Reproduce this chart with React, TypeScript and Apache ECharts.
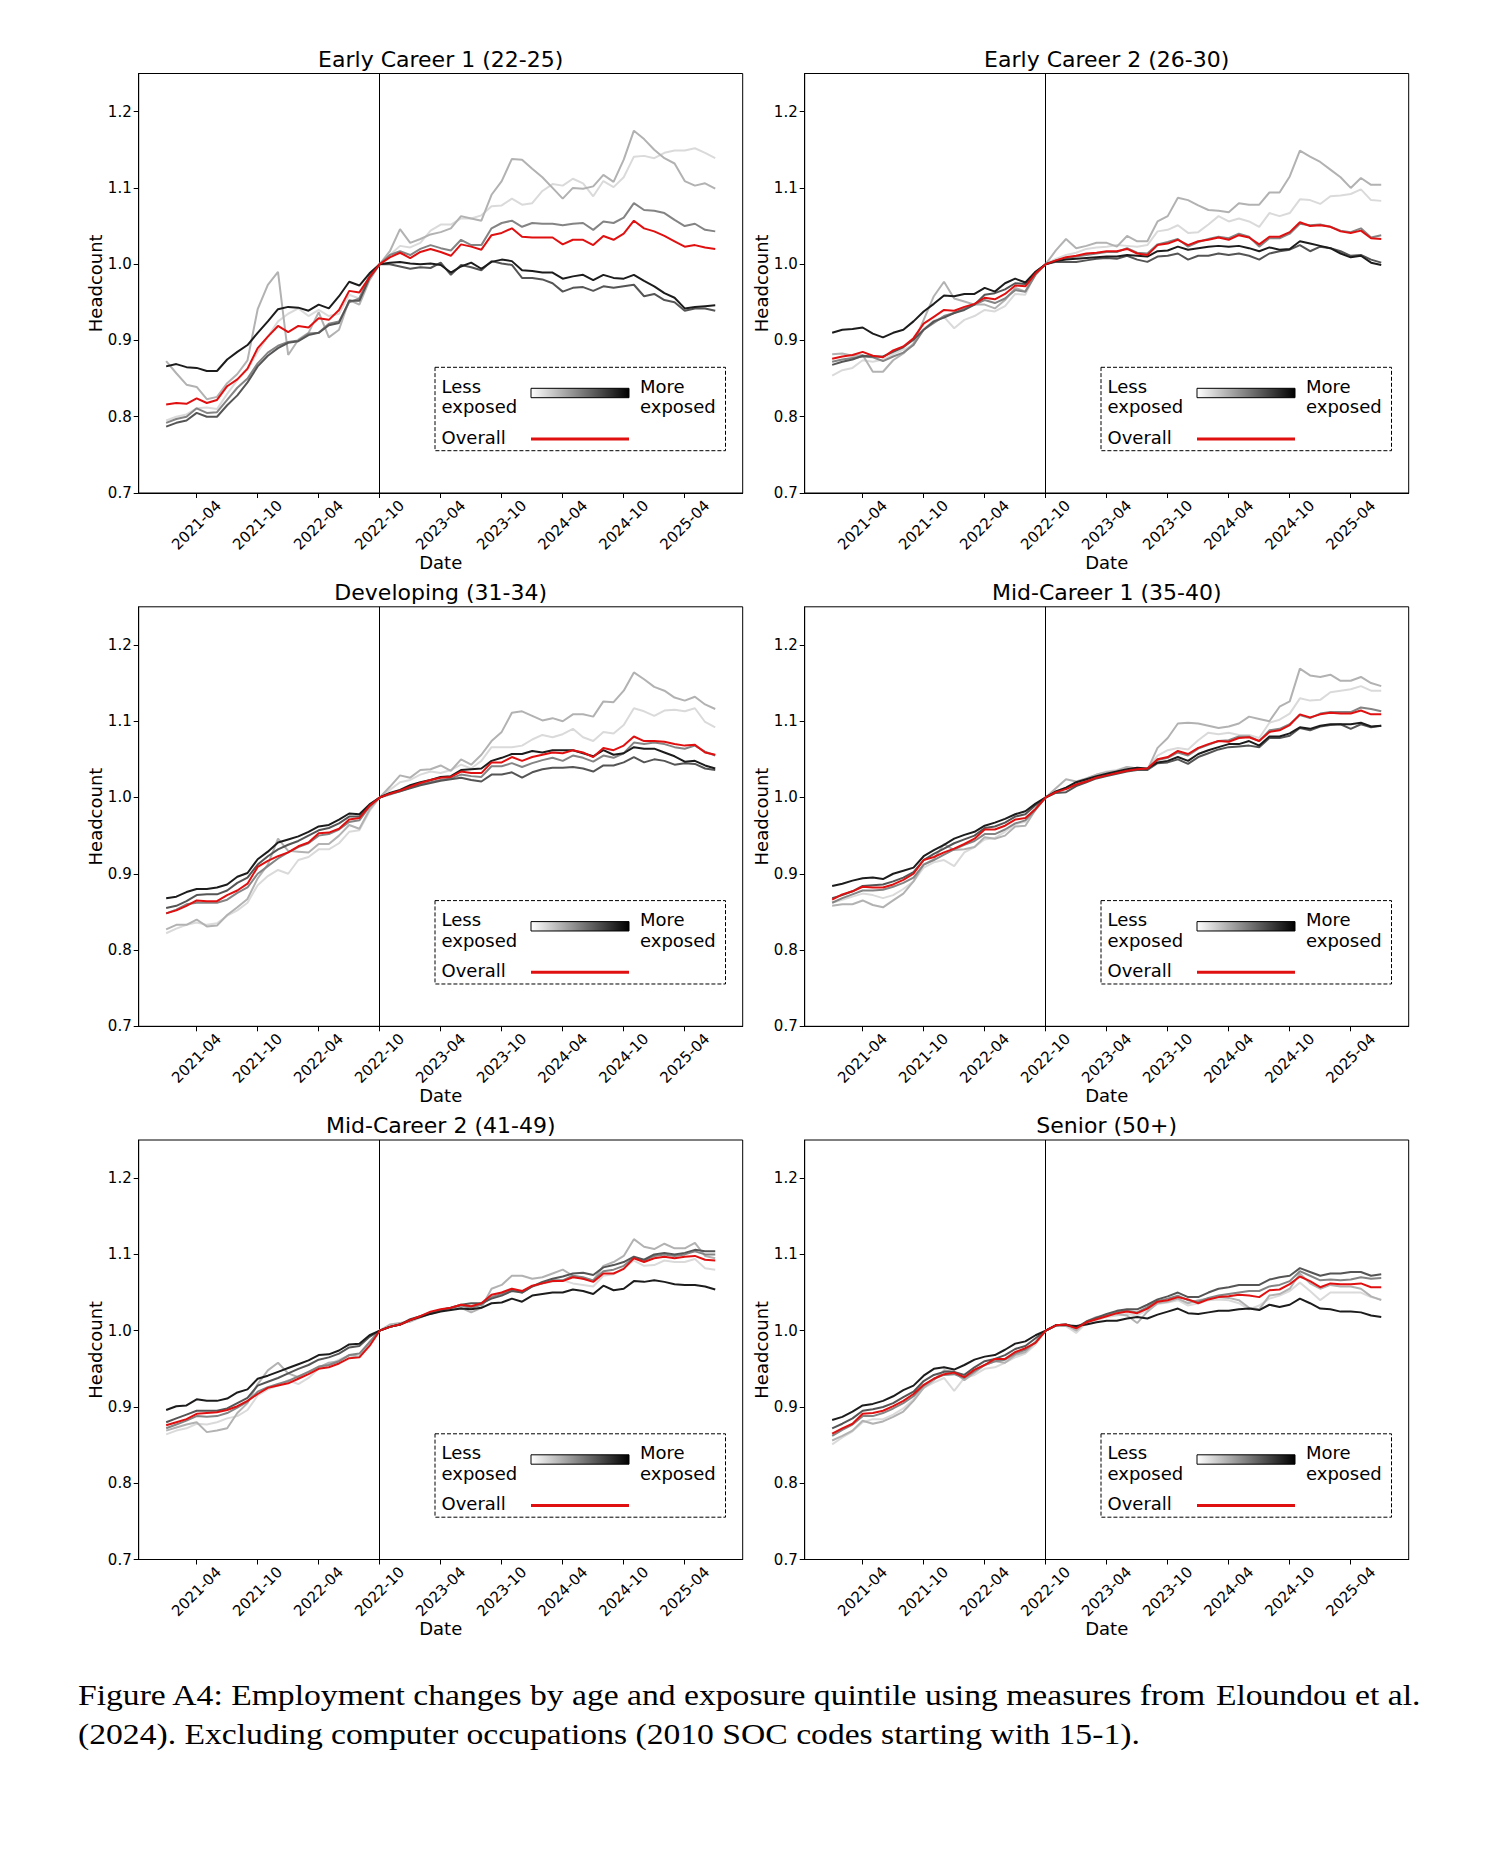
import React, { useEffect, useRef } from "react";
import * as echarts from "echarts";

// Monthly observations, 2021-01 .. 2025-07 (index 0 .. 54), normalised to 2022-10 = 1.0
const START_YEAR = 2021;
const N_MONTHS = 55;
const monthLabels: string[] = Array.from({ length: N_MONTHS }, (_, i) => {
  const y = START_YEAR + Math.floor(i / 12);
  const m = (i % 12) + 1;
  return `${y}-${m < 10 ? "0" + m : m}`;
});
const xTickIndex = [3, 9, 15, 21, 27, 33, 39, 45, 51];
const xTickLabels = ["2021-04", "2021-10", "2022-04", "2022-10", "2023-04", "2023-10", "2024-04", "2024-10", "2025-04"];
const yTicks = [0.7, 0.8, 0.9, 1.0, 1.1, 1.2];
const referenceIndex = 21; // 2022-10

const panelTitles = [
  "Early Career 1 (22-25)",
  "Early Career 2 (26-30)",
  "Developing (31-34)",
  "Mid-Career 1 (35-40)",
  "Mid-Career 2 (41-49)",
  "Senior (50+)",
];

// ---------- Early Career 1 (22-25) ----------
const ec1Q1 = [0.795, 0.800, 0.803, 0.811, 0.812, 0.810, 0.830, 0.848, 0.862, 0.885, 0.905, 0.925, 0.935, 0.942, 0.932, 0.940, 0.932, 0.935, 0.960, 0.955, 0.985, 1.000,
  1.012, 1.024, 1.022, 1.028, 1.044, 1.052, 1.052, 1.060, 1.060, 1.064, 1.076, 1.077, 1.086, 1.078, 1.080, 1.096, 1.105, 1.103, 1.112, 1.106, 1.089, 1.109, 1.101, 1.114, 1.141, 1.142, 1.139, 1.146, 1.149, 1.149, 1.152, 1.146, 1.139];
const ec1Q2 = [0.873, 0.857, 0.842, 0.839, 0.823, 0.826, 0.844, 0.856, 0.874, 0.941, 0.973, 0.990, 0.881, 0.901, 0.910, 0.937, 0.904, 0.914, 0.953, 0.947, 0.979, 1.000,
  1.017, 1.046, 1.028, 1.033, 1.039, 1.042, 1.047, 1.063, 1.060, 1.057, 1.091, 1.109, 1.138, 1.137, 1.125, 1.114, 1.100, 1.086, 1.100, 1.099, 1.102, 1.117, 1.108, 1.137, 1.175, 1.164, 1.150, 1.139, 1.132, 1.109, 1.103, 1.106, 1.099];
const ec1Q3 = [0.792, 0.797, 0.800, 0.811, 0.805, 0.806, 0.822, 0.838, 0.850, 0.870, 0.884, 0.893, 0.898, 0.900, 0.909, 0.910, 0.922, 0.925, 0.950, 0.955, 0.985, 1.000,
  1.012, 1.017, 1.012, 1.020, 1.025, 1.021, 1.018, 1.032, 1.025, 1.025, 1.047, 1.054, 1.057, 1.049, 1.054, 1.053, 1.053, 1.051, 1.053, 1.054, 1.045, 1.056, 1.054, 1.061, 1.080, 1.071, 1.070, 1.067, 1.058, 1.050, 1.053, 1.045, 1.043];
const ec1Q4 = [0.787, 0.792, 0.795, 0.805, 0.800, 0.800, 0.815, 0.828, 0.845, 0.866, 0.880, 0.890, 0.897, 0.899, 0.907, 0.910, 0.920, 0.923, 0.952, 0.952, 0.982, 1.000,
  1.000, 0.997, 0.994, 0.996, 0.995, 1.002, 0.986, 0.999, 0.996, 0.992, 1.004, 1.001, 0.999, 0.982, 0.982, 0.980, 0.975, 0.964, 0.969, 0.970, 0.965, 0.971, 0.969, 0.971, 0.973, 0.958, 0.961, 0.953, 0.950, 0.939, 0.942, 0.942, 0.939];
const ec1Q5 = [0.866, 0.869, 0.865, 0.864, 0.860, 0.860, 0.875, 0.885, 0.894, 0.910, 0.925, 0.941, 0.944, 0.943, 0.939, 0.947, 0.942, 0.958, 0.977, 0.972, 0.988, 1.000,
  1.002, 1.003, 1.001, 1.000, 1.001, 0.999, 0.989, 0.997, 1.002, 0.994, 1.003, 1.006, 1.004, 0.992, 0.991, 0.989, 0.989, 0.981, 0.984, 0.986, 0.979, 0.986, 0.982, 0.981, 0.986, 0.978, 0.971, 0.962, 0.956, 0.942, 0.944, 0.945, 0.946];
const ec1Overall = [0.816, 0.818, 0.817, 0.824, 0.818, 0.822, 0.840, 0.849, 0.863, 0.890, 0.905, 0.919, 0.911, 0.919, 0.917, 0.929, 0.927, 0.940, 0.965, 0.963, 0.983, 1.000,
  1.009, 1.015, 1.008, 1.016, 1.020, 1.016, 1.011, 1.026, 1.023, 1.019, 1.038, 1.041, 1.047, 1.036, 1.035, 1.035, 1.035, 1.026, 1.032, 1.032, 1.025, 1.037, 1.032, 1.040, 1.057, 1.047, 1.043, 1.037, 1.030, 1.023, 1.025, 1.022, 1.020];

// ---------- Early Career 2 (26-30) ----------
const ec2Q1 = [0.854, 0.861, 0.864, 0.874, 0.872, 0.875, 0.882, 0.888, 0.894, 0.915, 0.926, 0.931, 0.916, 0.927, 0.932, 0.940, 0.938, 0.945, 0.961, 0.960, 0.988, 1.000,
  1.007, 1.012, 1.015, 1.020, 1.022, 1.023, 1.025, 1.024, 1.023, 1.025, 1.043, 1.045, 1.051, 1.041, 1.042, 1.052, 1.063, 1.056, 1.060, 1.056, 1.049, 1.067, 1.063, 1.067, 1.085, 1.084, 1.079, 1.089, 1.090, 1.092, 1.098, 1.084, 1.083];
const ec2Q2 = [0.882, 0.883, 0.880, 0.881, 0.859, 0.859, 0.874, 0.883, 0.896, 0.927, 0.958, 0.977, 0.955, 0.951, 0.947, 0.947, 0.942, 0.953, 0.969, 0.964, 0.990, 1.000,
  1.018, 1.033, 1.021, 1.024, 1.028, 1.028, 1.023, 1.037, 1.030, 1.030, 1.056, 1.063, 1.087, 1.084, 1.077, 1.071, 1.070, 1.068, 1.080, 1.078, 1.078, 1.094, 1.094, 1.115, 1.149, 1.141, 1.134, 1.124, 1.114, 1.100, 1.113, 1.104, 1.104];
const ec2Q3 = [0.872, 0.875, 0.877, 0.879, 0.878, 0.873, 0.879, 0.884, 0.894, 0.914, 0.923, 0.932, 0.936, 0.942, 0.947, 0.953, 0.949, 0.955, 0.966, 0.964, 0.986, 1.000,
  1.005, 1.008, 1.010, 1.012, 1.014, 1.016, 1.016, 1.021, 1.015, 1.014, 1.026, 1.029, 1.033, 1.023, 1.029, 1.033, 1.036, 1.034, 1.040, 1.036, 1.023, 1.034, 1.034, 1.040, 1.053, 1.051, 1.052, 1.049, 1.044, 1.042, 1.047, 1.035, 1.038];
const ec2Q4 = [0.868, 0.872, 0.875, 0.880, 0.879, 0.879, 0.885, 0.891, 0.901, 0.914, 0.925, 0.930, 0.936, 0.940, 0.947, 0.960, 0.962, 0.967, 0.975, 0.974, 0.989, 1.000,
  1.003, 1.003, 1.003, 1.005, 1.007, 1.008, 1.007, 1.011, 1.006, 1.003, 1.010, 1.011, 1.014, 1.006, 1.011, 1.011, 1.014, 1.012, 1.014, 1.011, 1.006, 1.014, 1.017, 1.019, 1.025, 1.017, 1.023, 1.021, 1.017, 1.011, 1.012, 1.006, 1.002];
const ec2Q5 = [0.910, 0.914, 0.915, 0.917, 0.909, 0.904, 0.910, 0.914, 0.925, 0.938, 0.948, 0.959, 0.958, 0.961, 0.961, 0.969, 0.964, 0.975, 0.981, 0.976, 0.990, 1.000,
  1.004, 1.006, 1.007, 1.008, 1.009, 1.010, 1.010, 1.012, 1.011, 1.010, 1.017, 1.018, 1.023, 1.019, 1.021, 1.023, 1.024, 1.023, 1.024, 1.021, 1.017, 1.022, 1.019, 1.020, 1.030, 1.027, 1.024, 1.021, 1.014, 1.009, 1.011, 1.002, 0.999];
const ec2Overall = [0.876, 0.879, 0.881, 0.885, 0.880, 0.878, 0.887, 0.892, 0.903, 0.922, 0.931, 0.940, 0.939, 0.944, 0.948, 0.956, 0.954, 0.961, 0.972, 0.971, 0.988, 1.000,
  1.005, 1.009, 1.011, 1.014, 1.015, 1.017, 1.017, 1.020, 1.014, 1.012, 1.025, 1.027, 1.032, 1.025, 1.030, 1.032, 1.035, 1.032, 1.038, 1.035, 1.026, 1.036, 1.036, 1.042, 1.055, 1.050, 1.051, 1.049, 1.043, 1.041, 1.044, 1.034, 1.033];

// ---------- Developing (31-34) ----------
const devQ1 = [0.822, 0.828, 0.833, 0.836, 0.833, 0.835, 0.845, 0.852, 0.862, 0.885, 0.897, 0.905, 0.900, 0.918, 0.922, 0.932, 0.932, 0.940, 0.955, 0.957, 0.982, 1.000,
  1.010, 1.020, 1.023, 1.030, 1.034, 1.032, 1.036, 1.043, 1.038, 1.048, 1.066, 1.066, 1.066, 1.068, 1.076, 1.082, 1.079, 1.083, 1.090, 1.079, 1.074, 1.086, 1.084, 1.095, 1.117, 1.113, 1.107, 1.114, 1.115, 1.113, 1.117, 1.099, 1.092];
const devQ2 = [0.827, 0.833, 0.833, 0.840, 0.831, 0.832, 0.846, 0.856, 0.867, 0.894, 0.912, 0.946, 0.930, 0.929, 0.928, 0.939, 0.939, 0.950, 0.964, 0.959, 0.984, 1.000,
  1.014, 1.029, 1.026, 1.036, 1.037, 1.042, 1.035, 1.050, 1.043, 1.056, 1.074, 1.086, 1.111, 1.113, 1.107, 1.101, 1.104, 1.100, 1.109, 1.109, 1.106, 1.126, 1.125, 1.140, 1.164, 1.155, 1.145, 1.140, 1.131, 1.127, 1.132, 1.122, 1.116];
const devQ3 = [0.848, 0.853, 0.860, 0.862, 0.862, 0.862, 0.866, 0.875, 0.882, 0.900, 0.910, 0.920, 0.928, 0.935, 0.940, 0.950, 0.952, 0.958, 0.968, 0.970, 0.988, 1.000,
  1.004, 1.008, 1.013, 1.017, 1.020, 1.023, 1.025, 1.030, 1.028, 1.027, 1.041, 1.041, 1.045, 1.040, 1.045, 1.049, 1.052, 1.048, 1.055, 1.052, 1.047, 1.055, 1.052, 1.058, 1.072, 1.070, 1.072, 1.070, 1.066, 1.064, 1.068, 1.060, 1.055];
const devQ4 = [0.855, 0.858, 0.864, 0.872, 0.873, 0.873, 0.878, 0.888, 0.895, 0.912, 0.923, 0.932, 0.938, 0.943, 0.950, 0.957, 0.960, 0.966, 0.975, 0.975, 0.990, 1.000,
  1.005, 1.008, 1.012, 1.016, 1.019, 1.022, 1.024, 1.026, 1.023, 1.021, 1.030, 1.030, 1.033, 1.026, 1.033, 1.037, 1.039, 1.039, 1.040, 1.038, 1.034, 1.042, 1.042, 1.046, 1.053, 1.046, 1.050, 1.048, 1.043, 1.045, 1.044, 1.038, 1.036];
const devQ5 = [0.868, 0.870, 0.876, 0.880, 0.880, 0.882, 0.886, 0.896, 0.901, 0.919, 0.929, 0.941, 0.945, 0.949, 0.955, 0.962, 0.964, 0.971, 0.979, 0.978, 0.991, 1.000,
  1.006, 1.010, 1.016, 1.020, 1.023, 1.027, 1.028, 1.036, 1.037, 1.038, 1.048, 1.052, 1.057, 1.057, 1.061, 1.059, 1.062, 1.062, 1.062, 1.058, 1.054, 1.062, 1.056, 1.058, 1.066, 1.064, 1.064, 1.059, 1.054, 1.047, 1.048, 1.042, 1.038];
const devOverall = [0.848, 0.852, 0.858, 0.865, 0.864, 0.864, 0.872, 0.878, 0.887, 0.909, 0.917, 0.923, 0.928, 0.936, 0.941, 0.953, 0.954, 0.959, 0.971, 0.973, 0.989, 1.000,
  1.005, 1.009, 1.014, 1.019, 1.023, 1.026, 1.027, 1.034, 1.032, 1.032, 1.046, 1.046, 1.053, 1.048, 1.053, 1.056, 1.059, 1.058, 1.062, 1.059, 1.053, 1.065, 1.062, 1.068, 1.080, 1.074, 1.074, 1.073, 1.070, 1.068, 1.069, 1.059, 1.056];

// ---------- Mid-Career 1 (35-40) ----------
const mc1Q1 = [0.862, 0.866, 0.870, 0.874, 0.872, 0.868, 0.872, 0.880, 0.890, 0.908, 0.915, 0.918, 0.910, 0.928, 0.935, 0.945, 0.947, 0.955, 0.965, 0.968, 0.988, 1.000,
  1.008, 1.013, 1.020, 1.025, 1.030, 1.034, 1.036, 1.040, 1.038, 1.037, 1.055, 1.062, 1.065, 1.063, 1.075, 1.085, 1.083, 1.085, 1.082, 1.082, 1.078, 1.098, 1.102, 1.110, 1.130, 1.127, 1.128, 1.138, 1.140, 1.142, 1.146, 1.140, 1.140];
const mc1Q2 = [0.858, 0.860, 0.860, 0.865, 0.859, 0.856, 0.865, 0.874, 0.890, 0.912, 0.919, 0.939, 0.931, 0.932, 0.935, 0.948, 0.946, 0.950, 0.962, 0.963, 0.984, 1.000,
  1.012, 1.024, 1.021, 1.025, 1.030, 1.033, 1.035, 1.040, 1.038, 1.036, 1.065, 1.078, 1.097, 1.098, 1.097, 1.094, 1.091, 1.093, 1.097, 1.106, 1.103, 1.100, 1.119, 1.126, 1.169, 1.160, 1.158, 1.161, 1.153, 1.153, 1.158, 1.150, 1.146];
const mc1Q3 = [0.862, 0.868, 0.873, 0.878, 0.878, 0.879, 0.883, 0.888, 0.895, 0.912, 0.918, 0.925, 0.932, 0.938, 0.943, 0.952, 0.952, 0.958, 0.966, 0.970, 0.984, 1.000,
  1.007, 1.012, 1.017, 1.022, 1.026, 1.030, 1.033, 1.036, 1.037, 1.037, 1.049, 1.052, 1.059, 1.055, 1.064, 1.069, 1.074, 1.075, 1.080, 1.080, 1.074, 1.088, 1.090, 1.096, 1.108, 1.104, 1.110, 1.112, 1.112, 1.112, 1.118, 1.116, 1.113];
const mc1Q4 = [0.868, 0.872, 0.877, 0.884, 0.885, 0.886, 0.890, 0.895, 0.902, 0.918, 0.926, 0.933, 0.940, 0.945, 0.950, 0.960, 0.962, 0.967, 0.975, 0.978, 0.990, 1.000,
  1.006, 1.007, 1.015, 1.020, 1.025, 1.028, 1.031, 1.034, 1.036, 1.036, 1.045, 1.046, 1.050, 1.044, 1.053, 1.058, 1.063, 1.066, 1.067, 1.068, 1.066, 1.078, 1.078, 1.081, 1.091, 1.088, 1.093, 1.095, 1.096, 1.090, 1.096, 1.092, 1.094];
const mc1Q5 = [0.884, 0.887, 0.891, 0.894, 0.895, 0.893, 0.900, 0.904, 0.908, 0.923, 0.931, 0.938, 0.946, 0.951, 0.955, 0.963, 0.967, 0.972, 0.978, 0.982, 0.992, 1.000,
  1.008, 1.013, 1.020, 1.024, 1.028, 1.031, 1.034, 1.037, 1.039, 1.038, 1.046, 1.048, 1.053, 1.048, 1.057, 1.062, 1.066, 1.070, 1.070, 1.074, 1.068, 1.080, 1.080, 1.084, 1.092, 1.090, 1.094, 1.096, 1.096, 1.096, 1.098, 1.093, 1.094];
const mc1Overall = [0.866, 0.873, 0.877, 0.883, 0.882, 0.882, 0.886, 0.892, 0.900, 0.918, 0.922, 0.928, 0.933, 0.939, 0.946, 0.958, 0.958, 0.963, 0.971, 0.973, 0.985, 1.000,
  1.007, 1.011, 1.017, 1.021, 1.026, 1.029, 1.032, 1.035, 1.037, 1.038, 1.050, 1.053, 1.061, 1.057, 1.065, 1.070, 1.074, 1.073, 1.078, 1.079, 1.074, 1.086, 1.088, 1.095, 1.109, 1.105, 1.109, 1.111, 1.110, 1.110, 1.114, 1.109, 1.109];

// ---------- Mid-Career 2 (41-49) ----------
const mc2Q1 = [0.864, 0.869, 0.872, 0.878, 0.877, 0.880, 0.885, 0.888, 0.896, 0.915, 0.923, 0.928, 0.935, 0.930, 0.938, 0.950, 0.955, 0.962, 0.968, 0.965, 0.982, 1.000,
  1.006, 1.008, 1.012, 1.017, 1.023, 1.026, 1.029, 1.033, 1.030, 1.034, 1.046, 1.050, 1.055, 1.052, 1.058, 1.062, 1.064, 1.066, 1.062, 1.060, 1.058, 1.072, 1.074, 1.082, 1.092, 1.085, 1.086, 1.092, 1.090, 1.090, 1.094, 1.082, 1.080];
const mc2Q2 = [0.869, 0.873, 0.877, 0.880, 0.867, 0.869, 0.872, 0.892, 0.905, 0.930, 0.948, 0.958, 0.944, 0.939, 0.946, 0.952, 0.958, 0.960, 0.968, 0.966, 0.985, 1.000,
  1.008, 1.010, 1.012, 1.018, 1.022, 1.026, 1.028, 1.030, 1.024, 1.030, 1.055, 1.060, 1.072, 1.072, 1.068, 1.070, 1.075, 1.080, 1.072, 1.068, 1.066, 1.085, 1.090, 1.098, 1.120, 1.110, 1.107, 1.114, 1.108, 1.108, 1.115, 1.098, 1.095];
const mc2Q3 = [0.872, 0.877, 0.882, 0.888, 0.887, 0.888, 0.892, 0.899, 0.907, 0.920, 0.926, 0.930, 0.934, 0.940, 0.946, 0.953, 0.955, 0.960, 0.968, 0.970, 0.985, 1.000,
  1.005, 1.008, 1.014, 1.019, 1.024, 1.027, 1.030, 1.033, 1.030, 1.034, 1.044, 1.048, 1.054, 1.050, 1.058, 1.062, 1.066, 1.066, 1.072, 1.070, 1.066, 1.078, 1.080, 1.085, 1.096, 1.092, 1.098, 1.100, 1.098, 1.100, 1.104, 1.100, 1.100];
const mc2Q4 = [0.880, 0.885, 0.890, 0.895, 0.895, 0.895, 0.898, 0.905, 0.912, 0.928, 0.933, 0.938, 0.944, 0.950, 0.955, 0.962, 0.965, 0.970, 0.978, 0.980, 0.992, 1.000,
  1.005, 1.008, 1.015, 1.019, 1.023, 1.027, 1.030, 1.034, 1.036, 1.036, 1.042, 1.046, 1.052, 1.050, 1.058, 1.064, 1.068, 1.071, 1.075, 1.076, 1.073, 1.083, 1.086, 1.090, 1.097, 1.093, 1.100, 1.102, 1.100, 1.102, 1.106, 1.104, 1.104];
const mc2Q5 = [0.896, 0.901, 0.902, 0.910, 0.908, 0.908, 0.911, 0.919, 0.923, 0.937, 0.941, 0.946, 0.951, 0.956, 0.961, 0.968, 0.969, 0.974, 0.982, 0.983, 0.994, 1.000,
  1.005, 1.008, 1.014, 1.018, 1.022, 1.025, 1.027, 1.029, 1.028, 1.030, 1.036, 1.037, 1.042, 1.038, 1.046, 1.048, 1.050, 1.050, 1.054, 1.052, 1.048, 1.059, 1.053, 1.055, 1.065, 1.064, 1.066, 1.064, 1.061, 1.060, 1.060, 1.058, 1.054];
const mc2Overall = [0.876, 0.880, 0.884, 0.891, 0.892, 0.893, 0.896, 0.901, 0.908, 0.917, 0.925, 0.928, 0.931, 0.937, 0.943, 0.950, 0.952, 0.957, 0.964, 0.965, 0.980, 1.000,
  1.005, 1.008, 1.014, 1.019, 1.025, 1.028, 1.030, 1.034, 1.032, 1.036, 1.047, 1.050, 1.055, 1.052, 1.059, 1.062, 1.065, 1.065, 1.070, 1.068, 1.064, 1.075, 1.075, 1.081, 1.095, 1.090, 1.095, 1.097, 1.095, 1.097, 1.098, 1.093, 1.092];

// ---------- Senior (50+) ----------
const senQ1 = [0.851, 0.860, 0.868, 0.880, 0.884, 0.884, 0.890, 0.898, 0.910, 0.925, 0.932, 0.938, 0.921, 0.938, 0.942, 0.950, 0.952, 0.958, 0.965, 0.970, 0.982, 1.000,
  1.006, 1.006, 0.997, 1.010, 1.014, 1.018, 1.020, 1.022, 1.020, 1.027, 1.035, 1.037, 1.040, 1.033, 1.036, 1.040, 1.041, 1.040, 1.036, 1.028, 1.033, 1.042, 1.046, 1.052, 1.063, 1.052, 1.040, 1.050, 1.050, 1.050, 1.050, 1.044, 1.041];
const senQ2 = [0.856, 0.862, 0.869, 0.882, 0.878, 0.881, 0.887, 0.894, 0.908, 0.925, 0.935, 0.948, 0.946, 0.935, 0.945, 0.955, 0.960, 0.958, 0.968, 0.972, 0.985, 1.000,
  1.007, 1.008, 1.000, 1.012, 1.018, 1.020, 1.022, 1.020, 1.010, 1.025, 1.036, 1.038, 1.042, 1.036, 1.040, 1.042, 1.044, 1.043, 1.040, 1.030, 1.028, 1.046, 1.048, 1.055, 1.075, 1.062, 1.055, 1.060, 1.058, 1.058, 1.055, 1.045, 1.040];
const senQ3 = [0.862, 0.870, 0.877, 0.888, 0.888, 0.892, 0.898, 0.905, 0.914, 0.928, 0.937, 0.942, 0.943, 0.938, 0.947, 0.955, 0.960, 0.962, 0.970, 0.975, 0.985, 1.000,
  1.007, 1.008, 1.004, 1.011, 1.016, 1.020, 1.025, 1.026, 1.024, 1.031, 1.039, 1.042, 1.046, 1.040, 1.038, 1.043, 1.046, 1.048, 1.050, 1.052, 1.052, 1.058, 1.060, 1.065, 1.078, 1.072, 1.066, 1.067, 1.066, 1.067, 1.070, 1.068, 1.069];
const senQ4 = [0.872, 0.878, 0.885, 0.895, 0.897, 0.900, 0.905, 0.913, 0.920, 0.934, 0.942, 0.946, 0.946, 0.942, 0.952, 0.960, 0.963, 0.968, 0.976, 0.980, 0.990, 1.000,
  1.007, 1.008, 1.004, 1.012, 1.017, 1.022, 1.026, 1.028, 1.028, 1.034, 1.041, 1.045, 1.050, 1.044, 1.044, 1.050, 1.055, 1.057, 1.060, 1.060, 1.060, 1.067, 1.070, 1.072, 1.082, 1.077, 1.072, 1.075, 1.075, 1.077, 1.077, 1.072, 1.074];
const senQ5 = [0.883, 0.887, 0.894, 0.902, 0.904, 0.908, 0.914, 0.922, 0.928, 0.941, 0.950, 0.952, 0.949, 0.955, 0.962, 0.966, 0.968, 0.975, 0.983, 0.986, 0.994, 1.000,
  1.007, 1.007, 1.006, 1.008, 1.011, 1.013, 1.013, 1.016, 1.018, 1.016, 1.021, 1.025, 1.029, 1.023, 1.022, 1.024, 1.026, 1.026, 1.028, 1.029, 1.027, 1.034, 1.031, 1.034, 1.042, 1.036, 1.029, 1.028, 1.025, 1.025, 1.024, 1.020, 1.018];
const senOverall = [0.865, 0.872, 0.878, 0.891, 0.892, 0.895, 0.901, 0.908, 0.917, 0.929, 0.937, 0.943, 0.945, 0.939, 0.949, 0.955, 0.963, 0.963, 0.972, 0.977, 0.984, 1.000,
  1.007, 1.008, 1.003, 1.011, 1.015, 1.019, 1.023, 1.025, 1.023, 1.029, 1.038, 1.040, 1.044, 1.041, 1.036, 1.041, 1.044, 1.045, 1.047, 1.046, 1.044, 1.053, 1.054, 1.061, 1.071, 1.065, 1.057, 1.062, 1.061, 1.061, 1.062, 1.057, 1.057];

const panelQuintiles = [
  [ec1Q1, ec1Q2, ec1Q3, ec1Q4, ec1Q5],
  [ec2Q1, ec2Q2, ec2Q3, ec2Q4, ec2Q5],
  [devQ1, devQ2, devQ3, devQ4, devQ5],
  [mc1Q1, mc1Q2, mc1Q3, mc1Q4, mc1Q5],
  [mc2Q1, mc2Q2, mc2Q3, mc2Q4, mc2Q5],
  [senQ1, senQ2, senQ3, senQ4, senQ5],
];
const panelOverall = [ec1Overall, ec2Overall, devOverall, mc1Overall, mc2Overall, senOverall];

// Styling / layout
const FONT = "'DejaVu Sans', sans-serif";
const SERIF = "'Liberation Serif', 'DejaVu Serif', serif";
const quintileColors = ["#dadada", "#b2b2b2", "#848484", "#555555", "#1c1c1c"];
const OVERALL_RED = "#e01010";
const CITE_BLUE = "#1f2a86";
const colLeft = [138.7, 804.7];
const rowTop = [73.5, 606.8, 1140];
const PLOT_W = 604;
const PLOT_H = 419.5;

function buildOption() {
  const grid: any[] = [];
  const xAxis: any[] = [];
  const yAxis: any[] = [];
  const series: any[] = [];
  const graphic: any[] = [];

  panelTitles.forEach((title, k) => {
    const left = colLeft[k % 2];
    const top = rowTop[Math.floor(k / 2)];
    grid.push({
      left, top, width: PLOT_W, height: PLOT_H,
      show: true, borderColor: "#000", borderWidth: 1, backgroundColor: "transparent",
      containLabel: false, outerBoundsMode: "none",
    });
    xAxis.push({
      type: "value", gridIndex: k, min: -2.7, max: 56.7,
      axisLine: { show: true, onZero: false, lineStyle: { color: "#000", width: 1 } },
      axisTick: { show: true, inside: false, length: 5, customValues: xTickIndex, lineStyle: { color: "#000" } },
      axisLabel: {
        show: true, customValues: xTickIndex, rotate: 45, margin: 32,
        align: "center", verticalAlign: "middle",
        color: "#000", fontSize: 15, fontFamily: FONT,
        formatter: (v: number) => {
          const j = xTickIndex.indexOf(Math.round(v));
          return j >= 0 ? xTickLabels[j] : monthLabels[Math.round(v)] || "";
        },
      },
      splitLine: { show: false },
      name: "Date", nameLocation: "middle", nameGap: 60, nameMoveOverlap: false,
      nameTextStyle: { color: "#000", fontSize: 18, fontFamily: FONT },
    });
    yAxis.push({
      type: "value", gridIndex: k, min: 0.7, max: 1.25,
      axisLine: { show: true, onZero: false, lineStyle: { color: "#000", width: 1 } },
      axisTick: { show: true, inside: false, length: 5, customValues: yTicks, lineStyle: { color: "#000" } },
      axisLabel: {
        show: true, customValues: yTicks, margin: 7, color: "#000", fontSize: 15, fontFamily: FONT,
        formatter: (v: number) => v.toFixed(1),
      },
      splitLine: { show: false },
      name: "Headcount", nameLocation: "middle", nameGap: 34, nameRotate: 90, nameMoveOverlap: false,
      nameTextStyle: { color: "#000", fontSize: 18, fontFamily: FONT },
    });

    panelQuintiles[k].forEach((arr, q) => {
      series.push({
        type: "line", xAxisIndex: k, yAxisIndex: k, name: `Q${q + 1}`,
        data: arr.map((v, i) => [i, v]),
        showSymbol: false, symbol: "none", silent: true,
        lineStyle: { color: quintileColors[q], width: 2 },
        z: 2 + q,
      });
    });
    series.push({
      type: "line", xAxisIndex: k, yAxisIndex: k, name: "Overall",
      data: panelOverall[k].map((v, i) => [i, v]),
      showSymbol: false, symbol: "none", silent: true,
      lineStyle: { color: OVERALL_RED, width: 2 },
      z: 8,
      markLine: {
        silent: true, symbol: ["none", "none"], label: { show: false },
        lineStyle: { color: "#000", width: 1, type: "solid" },
        data: [{ xAxis: referenceIndex }],
        z: 1,
      },
    });

    // Panel title
    graphic.push({
      type: "text", x: left + PLOT_W / 2, y: top - 14.5, z: 10,
      style: { text: title, fill: "#000", fontSize: 22, fontFamily: FONT, align: "center", verticalAlign: "middle" },
    });

    // Legend box
    const bx = left + 296.3;
    const by = top + 293.8;
    graphic.push({
      type: "rect", x: bx, y: by, z: 10,
      shape: { x: 0, y: 0, width: 290.5, height: 83.4 },
      style: { fill: "#fff", stroke: "#000", lineWidth: 1, lineDash: [4, 2] },
    });
    const legendText = (text: string, dx: number, dy: number) => ({
      type: "text", x: bx + dx, y: by + dy, z: 11,
      style: { text, fill: "#000", fontSize: 18, fontFamily: FONT, align: "left", verticalAlign: "middle" },
    });
    graphic.push(legendText("Less", 6.5, 18.7));
    graphic.push(legendText("exposed", 6.5, 39.4));
    graphic.push(legendText("Overall", 6.5, 70));
    graphic.push(legendText("More", 205, 18.7));
    graphic.push(legendText("exposed", 205, 39.4));
    graphic.push({
      type: "rect", x: bx + 96, y: by + 21, z: 11,
      shape: { x: 0, y: 0, width: 98, height: 9.4 },
      style: {
        fill: new echarts.graphic.LinearGradient(0, 0, 1, 0, [
          { offset: 0, color: "#ffffff" },
          { offset: 1, color: "#000000" },
        ]),
        stroke: "#000", lineWidth: 1,
      },
    });
    graphic.push({
      type: "line", z: 11,
      shape: { x1: bx + 96, y1: by + 71.7, x2: bx + 194, y2: by + 71.7 },
      style: { stroke: OVERALL_RED, lineWidth: 3 },
    });
  });

  // Caption (set in a roman serif, slightly widened horizontally)
  const captionStyle = { fontSize: 29, fontFamily: SERIF };
  const captionRich = { n: { ...captionStyle, color: "#000" }, c: { ...captionStyle, color: CITE_BLUE } };
  graphic.push({
    type: "text", x: 78, y: 1695, scaleX: 1.16, z: 10,
    style: {
      text: "{n|Figure A4: Employment changes by age and exposure quintile using measures from }{c|Eloundou et al.}",
      align: "left", verticalAlign: "middle", rich: captionRich,
    },
  });
  graphic.push({
    type: "text", x: 78, y: 1734, scaleX: 1.16, z: 10,
    style: {
      text: "{n|(}{c|2024}{n|). Excluding computer occupations (2010 SOC codes starting with 15-1).}",
      align: "left", verticalAlign: "middle", rich: captionRich,
    },
  });

  return {
    animation: false,
    backgroundColor: "#fff",
    grid, xAxis, yAxis, series, graphic,
  };
}

export default function App() {
  const ref = useRef<HTMLDivElement>(null);
  useEffect(() => {
    if (!ref.current) return;
    const chart = echarts.init(ref.current, undefined, { renderer: "svg" });
    chart.setOption(buildOption() as any);
    return () => chart.dispose();
  }, []);
  return (
    <div
      ref={ref}
      style={{ position: "absolute", left: 0, top: 0, width: 1504, height: 1858, background: "#fff" }}
    />
  );
}
